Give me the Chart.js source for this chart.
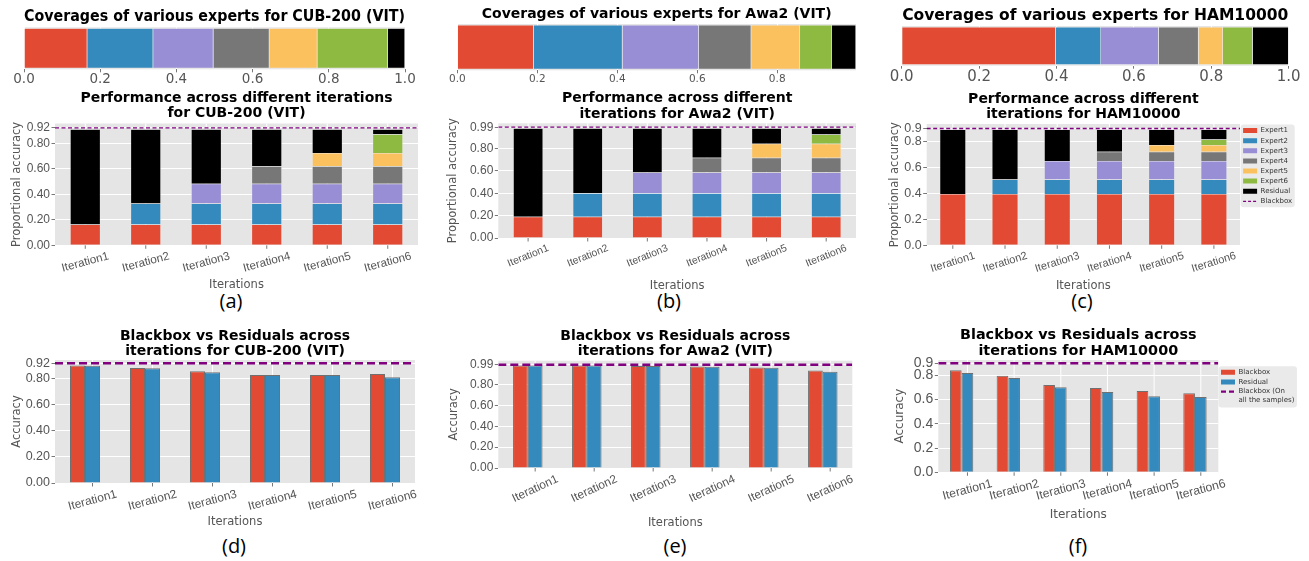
<!DOCTYPE html>
<html>
<head>
<meta charset="utf-8">
<title>Expert coverage and accuracy across iterations</title>
<script src="https://cdn.jsdelivr.net/npm/chart.js@4.4.1/dist/chart.umd.min.js"></script>
<style>
  html, body { margin: 0; padding: 0; background: #ffffff; }
  body { position: relative; width: 1309px; height: 561px; overflow: hidden; }
  canvas { position: absolute; }
  .caption {
    position: absolute; font-family: 'Open Sans', 'DejaVu Sans', sans-serif; font-size: 20px;
    color: #000; line-height: 1; transform: translate(-50%, -50%); white-space: nowrap;
  }
</style>
</head>
<body>
<div class="caption" style="left:231px;top:301px">(a)</div>
<div class="caption" style="left:669px;top:301px">(b)</div>
<div class="caption" style="left:1082px;top:301px">(c)</div>
<div class="caption" style="left:234px;top:546px">(d)</div>
<div class="caption" style="left:675px;top:546px">(e)</div>
<div class="caption" style="left:1078px;top:546px">(f)</div>
<script>
const FONT = 'DejaVu Sans';
const TICK_FONT = 'Liberation Sans';
const TICK_COLOR = '#555555';
const PANEL_BG = '#E5E5E5';
const BLACKBOX_COLOR = '#800080';

// ---- data ----
const iterations = ['Iteration1', 'Iteration2', 'Iteration3', 'Iteration4', 'Iteration5', 'Iteration6'];
const expertNames = ['Expert1', 'Expert2', 'Expert3', 'Expert4', 'Expert5', 'Expert6'];
const segmentColors = ['#E24A33', '#348ABD', '#988ED5', '#777777', '#FBC15E', '#8EBA42'];
const residualColor = '#000000';

// share of samples covered by Expert1..Expert6, then the residual
const coverageCUB = [0.166, 0.173, 0.158, 0.147, 0.126, 0.185, 0.045];
const coverageAwa2 = [0.191, 0.222, 0.191, 0.131, 0.122, 0.080, 0.060];
const coverageHAM = [0.398, 0.117, 0.149, 0.103, 0.063, 0.077, 0.093];
const coverageTicks = [0, 0.2, 0.4, 0.6, 0.8, 1.0];
const coverageTicksAwa2 = [0, 0.2, 0.4, 0.6, 0.8];

// proportional accuracy contributed by each expert, and what the residual keeps per iteration
const expertAccCUB = [0.163, 0.165, 0.155, 0.137, 0.104, 0.147];
const residualAccCUB = [0.747, 0.582, 0.427, 0.290, 0.186, 0.039];
const expertAccAwa2 = [0.190, 0.210, 0.185, 0.133, 0.124, 0.083];
const residualAccAwa2 = [0.790, 0.580, 0.395, 0.262, 0.138, 0.055];
const expertAccHAM = [0.396, 0.110, 0.143, 0.072, 0.051, 0.043];
const residualAccHAM = [0.496, 0.386, 0.243, 0.171, 0.120, 0.077];

// blackbox accuracy on all the samples
const blackboxCUB = 0.92;
const blackboxAwa2 = 0.99;
const blackboxHAM = 0.90;
const yTicksCUB = [0, 0.2, 0.4, 0.6, 0.8, 0.92];
const yTicksAwa2 = [0, 0.2, 0.4, 0.6, 0.8, 0.99];
const yTicksHAM = [0, 0.2, 0.4, 0.6, 0.8, 0.9];

// blackbox vs residual accuracy on the samples left at each iteration
const blackboxIterCUB = [0.902, 0.884, 0.858, 0.830, 0.830, 0.838];
const residualIterCUB = [0.900, 0.882, 0.851, 0.830, 0.830, 0.812];
const blackboxIterAwa2 = [0.985, 0.985, 0.980, 0.974, 0.965, 0.936];
const residualIterAwa2 = [0.985, 0.985, 0.980, 0.971, 0.962, 0.924];
const blackboxIterHAM = [0.842, 0.798, 0.721, 0.696, 0.671, 0.652];
const residualIterHAM = [0.820, 0.779, 0.702, 0.663, 0.628, 0.622];

const blackboxAllLabel = ['Blackbox (On', 'all the samples)'];

// ---- plugins ----
const panelBackground = {
  id: 'panelBackground',
  beforeDraw(chart) {
    const { ctx, chartArea: a } = chart;
    ctx.save();
    ctx.fillStyle = PANEL_BG;
    ctx.fillRect(a.left, a.top, a.right - a.left, a.bottom - a.top);
    const lg = chart.legend;
    if (lg && lg.options.display && lg.legendHitBoxes && lg.legendHitBoxes.length) {
      let l = Infinity, t = Infinity, r = -Infinity, b = -Infinity;
      lg.legendHitBoxes.forEach(h => {
        l = Math.min(l, h.left); t = Math.min(t, h.top);
        r = Math.max(r, h.left + h.width); b = Math.max(b, h.top + h.height);
      });
      ctx.fillStyle = '#EAEAEA';
      ctx.beginPath();
      if (ctx.roundRect) ctx.roundRect(l - 2.5, t - 2.5, r - l + 5, b - t + 5, 3);
      else ctx.rect(l - 2.5, t - 2.5, r - l + 5, b - t + 5);
      ctx.fill();
    }
    ctx.restore();
  }
};

// vertical grid lines and tick marks of the iteration axis, optionally moved
// right by a fraction of a category slot
const iterationGrid = {
  id: 'iterationGrid',
  beforeDatasetsDraw(chart, args, opts) {
    const { ctx, chartArea: a } = chart;
    const xs = chart.scales.x;
    const slot = xs.getPixelForValue(1) - xs.getPixelForValue(0);
    ctx.save();
    xs.ticks.forEach((t, i) => {
      const px = xs.getPixelForTick(i) + slot * (opts.shift || 0);
      ctx.strokeStyle = '#FFFFFF';
      ctx.lineWidth = 1;
      ctx.beginPath(); ctx.moveTo(px, a.top); ctx.lineTo(px, a.bottom); ctx.stroke();
      ctx.strokeStyle = TICK_COLOR;
      ctx.lineWidth = 0.8;
      ctx.beginPath(); ctx.moveTo(px, a.bottom); ctx.lineTo(px, a.bottom + 3.5); ctx.stroke();
    });
    ctx.restore();
  }
};

// horizontal dashed reference line placed on the value scale
const blackboxLine = {
  id: 'blackboxLine',
  afterDatasetsDraw(chart, args, opts) {
    if (opts.value === undefined) return;
    const { ctx, chartArea: a } = chart;
    const y = chart.scales.y.getPixelForValue(opts.value);
    ctx.save();
    ctx.beginPath();
    ctx.rect(a.left, a.top - 2, a.right - a.left, a.bottom - a.top + 2);
    ctx.clip();
    ctx.strokeStyle = opts.color;
    ctx.lineWidth = opts.width;
    ctx.setLineDash(opts.dash);
    ctx.beginPath();
    ctx.moveTo(a.left, y);
    ctx.lineTo(a.right, y);
    ctx.stroke();
    ctx.restore();
  }
};

// keeps a right-hand legend at a fixed width
const legendWidth = {
  id: 'legendWidth',
  beforeLayout(chart, args, opts) {
    const lg = chart.legend;
    if (!lg || lg._fixedWidth || !opts || !opts.width) return;
    const fit = lg.fit.bind(lg);
    lg.fit = function () { fit(); this.width = opts.width; };
    lg._fixedWidth = true;
  }
};

function legendItems(chart) {
  const items = chart.data.datasets.map((ds, i) => ({
    text: ds.label, fillStyle: ds.backgroundColor, strokeStyle: ds.backgroundColor,
    lineWidth: 0, lineDash: [], pointStyle: 'rect', fontColor: '#333333', hidden: false, datasetIndex: i
  }));
  const bb = chart.options.plugins.blackboxLine;
  items.push({
    text: bb.label, fillStyle: 'rgba(0,0,0,0)', strokeStyle: bb.color,
    lineWidth: bb.legendWidth, lineDash: bb.legendDash, pointStyle: 'line',
    fontColor: '#333333', hidden: false, datasetIndex: chart.data.datasets.length
  });
  return items;
}

// ---- helpers ----
function addCanvas(C) {
  const cv = document.createElement('canvas');
  cv.width = C.w; cv.height = C.h;
  cv.style.left = C.x + 'px'; cv.style.top = C.y + 'px';
  cv.style.width = C.w + 'px'; cv.style.height = C.h + 'px';
  document.body.appendChild(cv);
  return cv.getContext('2d');
}

function titleOptions(t, A, C) {
  const lines = Array.isArray(t.text) ? t.text.length : 1;
  const lh = t.size * t.lineHeight;
  const padBottom = A.t - t.center - lh / 2;
  return {
    opts: {
      display: true, text: t.text, fullSize: false, color: '#000000',
      font: { family: FONT, size: t.size, weight: 'bold', lineHeight: t.lineHeight },
      padding: { top: 0, bottom: padBottom }
    },
    layoutTop: A.t - C.y - lines * lh - padBottom
  };
}

// shift that centres a rotated, right-aligned tick label under its tick
const measureCtx = document.createElement('canvas').getContext('2d');
function rotatedLabelShift(size, degrees) {
  measureCtx.font = size + 'px "' + TICK_FONT + '"';
  const w = Math.max(...iterations.map(s => measureCtx.measureText(s).width));
  return w * Math.cos(degrees * Math.PI / 180) / 2;
}

function whiteGrid(tickLength) {
  return { color: '#FFFFFF', lineWidth: 1, tickColor: TICK_COLOR, tickLength: tickLength, tickWidth: 0.8 };
}

// ---- horizontal coverage bar ----
function coveragePanel(p) {
  const C = p.canvas, A = p.area;
  const ctx = addCanvas(C);
  const title = titleOptions(p.title, A, C);
  const names = expertNames.concat(['Residual']);
  const colors = segmentColors.concat([residualColor]);
  const datasets = p.coverage.map((v, k) => ({
    label: names[k], data: [v], backgroundColor: colors[k],
    borderColor: '#EEEEEE', borderWidth: 0.6, barPercentage: 0.96, categoryPercentage: 1
  }));
  const tickLen = 3;
  new Chart(ctx, {
    type: 'bar',
    data: { labels: [''], datasets },
    options: {
      indexAxis: 'y', responsive: false, animation: false, events: [],
      layout: { padding: { top: title.layoutTop, left: A.l - C.x, right: C.x + C.w - A.r, bottom: 0 } },
      scales: {
        x: {
          type: 'linear', stacked: true, min: 0, max: p.xmax,
          grid: whiteGrid(tickLen), border: { display: false },
          ticks: {
            color: TICK_COLOR, font: { family: FONT, size: p.tickSize },
            padding: p.tickCenter - A.b - tickLen - 0.6 * p.tickSize,
            callback: v => Number(v).toFixed(1)
          },
          afterBuildTicks: s => { s.ticks = p.ticks.map(v => ({ value: v })); },
          afterFit: s => { s.height = C.y + C.h - A.b; }
        },
        y: { type: 'category', stacked: true, display: false }
      },
      plugins: { title: title.opts, legend: { display: false }, tooltip: { enabled: false } }
    },
    plugins: [panelBackground]
  });
}

// ---- vertical iteration panels ----
function iterationPanel(p) {
  const C = p.canvas, A = p.area;
  const ctx = addCanvas(C);
  const title = titleOptions(p.title, A, C);
  const axisLh = p.axisTitleSize * 1.2;
  const lgW = p.legend ? p.legend.width : 0;
  const tickShift = p.tickShift || 0;
  const slot = (A.r - A.l) / iterations.length;
  new Chart(ctx, {
    type: 'bar',
    data: { labels: iterations, datasets: p.datasets },
    options: {
      responsive: false, animation: false, events: [],
      layout: { padding: { top: title.layoutTop, left: 0, right: C.x + C.w - A.r - lgW, bottom: 0 } },
      scales: {
        x: {
          type: 'category', stacked: !!p.stacked, offset: true,
          grid: { color: 'rgba(0,0,0,0)', tickColor: 'rgba(0,0,0,0)', tickLength: 3.5, offset: false },
          border: { display: false },
          ticks: {
            color: TICK_COLOR, font: { family: TICK_FONT, size: p.xtickSize },
            minRotation: p.xtickRotation, maxRotation: p.xtickRotation, autoSkip: false, padding: 0.5,
            labelOffset: rotatedLabelShift(p.xtickSize, p.xtickRotation) + slot * tickShift
          },
          title: {
            display: true, text: 'Iterations', color: TICK_COLOR,
            font: { family: FONT, size: p.axisTitleSize },
            padding: { top: 0, bottom: C.y + C.h - p.xTitleCenter - axisLh / 2 }
          },
          afterFit: s => { s.height = C.y + C.h - A.b; }
        },
        y: {
          stacked: !!p.stacked, min: 0, max: p.ymax,
          grid: whiteGrid(3.5), border: { display: false },
          ticks: {
            color: TICK_COLOR, font: { family: TICK_FONT, size: p.ytickSize }, padding: 1.5,
            callback: v => Number(v).toFixed(p.decimals)
          },
          afterBuildTicks: s => { s.ticks = p.yTicks.map(v => ({ value: v })); },
          title: {
            display: true, text: p.yTitle, color: TICK_COLOR,
            font: { family: FONT, size: p.axisTitleSize },
            padding: { top: p.yTitleCenter - C.x - axisLh / 2, bottom: 0 }
          },
          afterFit: s => { s.width = A.l - C.x; }
        }
      },
      plugins: {
        title: title.opts,
        tooltip: { enabled: false },
        legendWidth: { width: lgW },
        iterationGrid: { shift: tickShift },
        blackboxLine: {
          value: p.blackbox, color: BLACKBOX_COLOR, width: p.bbWidth, dash: p.bbDash,
          label: p.blackboxLabel,
          legendWidth: p.legend ? p.legend.lineWidth : 1, legendDash: p.legend ? p.legend.dash : []
        },
        legend: p.legend ? {
          display: true, position: 'right', align: 'start', fullSize: false,
          title: {
            display: p.legend.offset > 0, text: '',
            padding: { top: p.legend.offset, bottom: 0 }, font: { size: 1, lineHeight: 1 }
          },
          labels: {
            usePointStyle: true, pointStyleWidth: 14, boxWidth: 14, boxHeight: 5,
            padding: p.legend.padding, color: '#333333',
            font: { family: FONT, size: 7 }, generateLabels: legendItems
          }
        } : { display: false }
      }
    },
    plugins: [panelBackground, iterationGrid, blackboxLine, legendWidth]
  });
}

function stackedDatasets(expertAcc, residualAcc) {
  const ds = expertNames.map((name, k) => ({
    label: name,
    data: iterations.map((_, i) => (i >= k ? expertAcc[k] : null)),
    backgroundColor: segmentColors[k], borderColor: '#EEEEEE', borderWidth: 0.5,
    barPercentage: 0.5, categoryPercentage: 1
  }));
  ds.push({
    label: 'Residual', data: residualAcc, backgroundColor: residualColor,
    borderColor: '#EEEEEE', borderWidth: 0.5, barPercentage: 0.5, categoryPercentage: 1
  });
  return ds;
}

function groupedDatasets(bb, res) {
  const common = { borderColor: '#707070', borderWidth: 1, barPercentage: 1, categoryPercentage: 0.5 };
  return [
    Object.assign({ label: 'Blackbox', data: bb, backgroundColor: '#E24A33' }, common),
    Object.assign({ label: 'Residual', data: res, backgroundColor: '#348ABD' }, common)
  ];
}

// ---- coverage row ----
coveragePanel({
  canvas: { x: 0, y: 0, w: 440, h: 92 }, area: { l: 24, t: 27.3, r: 405, b: 69.3 },
  title: { text: 'Coverages of various experts for CUB-200 (VIT)', size: 15, lineHeight: 1.2, center: 16.7 },
  coverage: coverageCUB, ticks: coverageTicks, xmax: 1, tickSize: 13.5, tickCenter: 79
});
coveragePanel({
  canvas: { x: 440, y: 0, w: 440, h: 92 }, area: { l: 457.3, t: 24, r: 856, b: 70.3 },
  title: { text: 'Coverages of various experts for Awa2 (VIT)', size: 14, lineHeight: 1.2, center: 14.5 },
  coverage: coverageAwa2, ticks: coverageTicksAwa2, xmax: 0.997, tickSize: 10.5, tickCenter: 79.7
});
coveragePanel({
  canvas: { x: 880, y: 0, w: 429, h: 92 }, area: { l: 901.7, t: 26, r: 1288.7, b: 65.7 },
  title: { text: 'Coverages of various experts for HAM10000', size: 15.5, lineHeight: 1.2, center: 16 },
  coverage: coverageHAM, ticks: coverageTicks, xmax: 1, tickSize: 15, tickCenter: 77.3
});

// ---- performance row ----
iterationPanel({
  canvas: { x: 0, y: 86, w: 440, h: 222 }, area: { l: 55, t: 123.5, r: 418, b: 245.3 },
  title: { text: ['Performance across different iterations', 'for CUB-200 (VIT)'], size: 14, lineHeight: 1.1, center: 113.8 },
  stacked: true, datasets: stackedDatasets(expertAccCUB, residualAccCUB),
  ymax: 0.955, yTicks: yTicksCUB, decimals: 2, yTitle: 'Proportional accuracy',
  blackbox: blackboxCUB, blackboxLabel: 'Blackbox', bbWidth: 1.3, bbDash: [4, 2.5],
  xTitleCenter: 285, yTitleCenter: 17, ytickSize: 12, xtickSize: 11.6, xtickRotation: 15, axisTitleSize: 11.5
});
iterationPanel({
  canvas: { x: 440, y: 86, w: 440, h: 222 }, area: { l: 498.3, t: 123.3, r: 856, b: 238 },
  title: { text: ['Performance across different', 'iterations for Awa2 (VIT)'], size: 14, lineHeight: 1.1, center: 114 },
  stacked: true, datasets: stackedDatasets(expertAccAwa2, residualAccAwa2),
  ymax: 1.025, yTicks: yTicksAwa2, decimals: 2, yTitle: 'Proportional accuracy',
  blackbox: blackboxAwa2, blackboxLabel: 'Blackbox', bbWidth: 1.3, bbDash: [4, 2.5],
  xTitleCenter: 286, yTitleCenter: 453, ytickSize: 12, xtickSize: 10.4, xtickRotation: 22, axisTitleSize: 11.5
});
iterationPanel({
  canvas: { x: 880, y: 86, w: 429, h: 222 }, area: { l: 926.7, t: 124, r: 1240, b: 245.3 },
  title: { text: ['Performance across different', 'iterations for HAM10000'], size: 14, lineHeight: 1.1, center: 114.8 },
  stacked: true, datasets: stackedDatasets(expertAccHAM, residualAccHAM),
  ymax: 0.9345, yTicks: yTicksHAM, decimals: 1, yTitle: 'Proportional accuracy',
  blackbox: blackboxHAM, blackboxLabel: 'Blackbox', bbWidth: 1.3, bbDash: [4, 2.5],
  xTitleCenter: 286, yTitleCenter: 895, ytickSize: 12.5, xtickSize: 11, xtickRotation: 17, axisTitleSize: 11.5,
  legend: { width: 60, padding: 3.1, offset: 0, lineWidth: 1.2, dash: [3, 2] }
});

// ---- blackbox vs residual row (ticks sit on the residual bars) ----
iterationPanel({
  canvas: { x: 0, y: 318, w: 440, h: 243 }, area: { l: 55, t: 360, r: 415, b: 483 },
  title: { text: ['Blackbox vs Residuals across', 'iterations for CUB-200 (VIT)'], size: 14, lineHeight: 1.1, center: 351.3 },
  stacked: false, datasets: groupedDatasets(blackboxIterCUB, residualIterCUB), tickShift: 0.125,
  ymax: 0.945, yTicks: yTicksCUB, decimals: 2, yTitle: 'Accuracy',
  blackbox: blackboxCUB, blackboxLabel: blackboxAllLabel, bbWidth: 2.5, bbDash: [8, 4],
  xTitleCenter: 522, yTitleCenter: 17.5, ytickSize: 12.5, xtickSize: 12, xtickRotation: 15, axisTitleSize: 11.5
});
iterationPanel({
  canvas: { x: 440, y: 318, w: 440, h: 243 }, area: { l: 498.3, t: 360.7, r: 852.3, b: 468 },
  title: { text: ['Blackbox vs Residuals across', 'iterations for Awa2 (VIT)'], size: 14, lineHeight: 1.1, center: 351.3 },
  stacked: false, datasets: groupedDatasets(blackboxIterAwa2, residualIterAwa2), tickShift: 0.125,
  ymax: 1.03, yTicks: yTicksAwa2, decimals: 2, yTitle: 'Accuracy',
  blackbox: blackboxAwa2, blackboxLabel: blackboxAllLabel, bbWidth: 2.5, bbDash: [8, 4],
  xTitleCenter: 522.7, yTitleCenter: 453.7, ytickSize: 12, xtickSize: 11.8, xtickRotation: 25, axisTitleSize: 11.5
});
iterationPanel({
  canvas: { x: 880, y: 318, w: 429, h: 243 }, area: { l: 938.3, t: 360, r: 1218.3, b: 472.3 },
  title: { text: ['Blackbox vs Residuals across', 'iterations for HAM10000'], size: 14.4, lineHeight: 1.1, center: 351 },
  stacked: false, datasets: groupedDatasets(blackboxIterHAM, residualIterHAM), tickShift: 0.125,
  ymax: 0.927, yTicks: yTicksHAM, decimals: 1, yTitle: 'Accuracy',
  blackbox: blackboxHAM, blackboxLabel: blackboxAllLabel, bbWidth: 2.5, bbDash: [8, 4],
  xTitleCenter: 515, yTitleCenter: 900, ytickSize: 14, xtickSize: 12.2, xtickRotation: 15, axisTitleSize: 12,
  legend: { width: 85, padding: 2.7, offset: 5, lineWidth: 2.2, dash: [5, 3] }
});
</script>
</body>
</html>
